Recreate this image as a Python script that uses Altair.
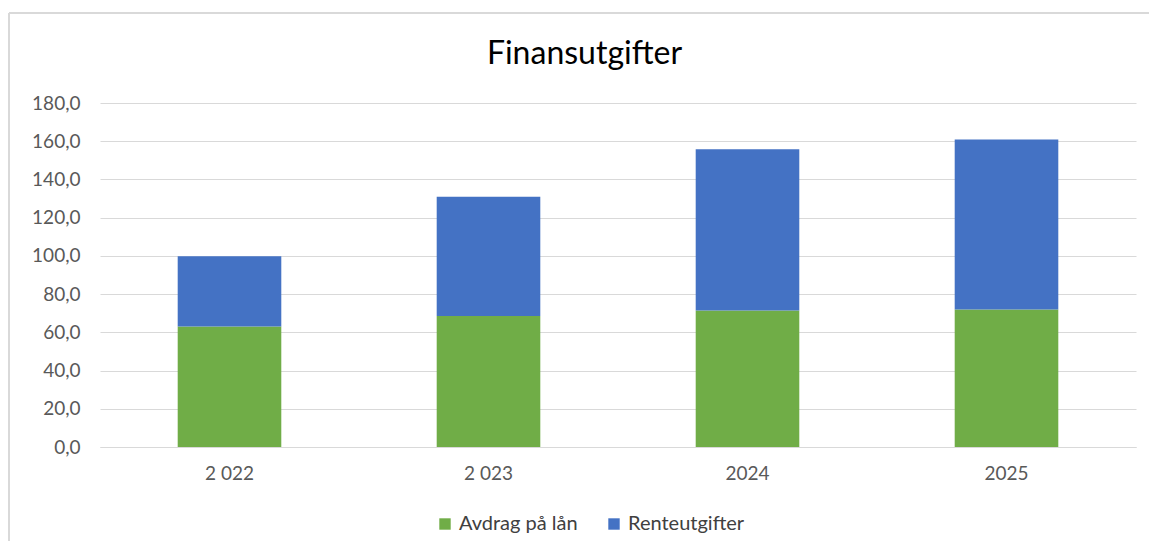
import altair as alt
import pandas as pd

years = ["2 022", "2 023", "2024", "2025"]
avdrag = [63.0, 68.6, 71.4, 71.9]
renteutgifter = [36.8, 62.3, 84.4, 89.0]
series = ["Avdrag på lån", "Renteutgifter"]
colors = ["#70AD47", "#4472C4"]
y_ticks = [0, 20, 40, 60, 80, 100, 120, 140, 160, 180]
title_text = "Finansutgifter"

rows = []
for i, yr in enumerate(years):
    rows.append({"year": yr, "series": series[0], "value": avdrag[i], "ord": 0})
    rows.append({"year": yr, "series": series[1], "value": renteutgifter[i], "ord": 1})
df = pd.DataFrame(rows)

FONT = "Lato"
W, H = 1036, 344

bars = alt.Chart(df).mark_bar(strokeWidth=0).encode(
    x=alt.X("year:N", sort=years,
            scale=alt.Scale(paddingInner=0.6, paddingOuter=0.3),
            axis=alt.Axis(title=None, labelAngle=0, ticks=False, domain=True,
                          domainColor="#d9d9d9", labelPadding=17, grid=False,
                          labelFont=FONT, labelFontSize=19, labelColor="#595959")),
    y=alt.Y("value:Q", stack="zero",
            scale=alt.Scale(domain=[0, 180], nice=False),
            axis=alt.Axis(title=None, values=y_ticks, ticks=False, domain=False,
                          gridColor="#d9d9d9", gridWidth=1, labelPadding=20,
                          labelExpr="replace(format(datum.value, '.1f'), '.', ',')",
                          labelFont=FONT, labelFontSize=19, labelColor="#595959")),
    color=alt.Color("series:N", sort=series,
                    scale=alt.Scale(domain=series, range=colors),
                    legend=alt.Legend(title=None, orient="none", direction="horizontal",
                                      legendX=335, legendY=411, symbolType="square",
                                      symbolSize=130, symbolStrokeWidth=0,
                                      labelFont=FONT, labelFontSize=20,
                                      labelColor="#404040", columnPadding=26,
                                      labelOffset=4, padding=0)),
    order=alt.Order("ord:Q"),
)

title_df = pd.DataFrame({"t": [title_text]})
title = alt.Chart(title_df).mark_text(
    font=FONT, fontSize=32, color="#000000", align="center", baseline="alphabetic"
).encode(text="t:N", x=alt.value(484.5), y=alt.value(-39))

border_top = alt.Chart(title_df).mark_rule(color="#d9d9d9", strokeWidth=2).encode(
    x=alt.value(-91), x2=alt.value(1049), y=alt.value(-90))
border_left = alt.Chart(title_df).mark_rule(color="#d9d9d9", strokeWidth=2).encode(
    x=alt.value(-91), y=alt.value(-90), y2=alt.value(438))

chart = alt.layer(border_top, border_left, bars, title).properties(
    width=W, height=H,
    background="white",
    autosize=alt.AutoSizeParams(type="none"),
    padding={"left": 92, "top": 95, "right": 13, "bottom": 94},
).configure_view(strokeWidth=0, stroke=None)

chart.save("out.html", embed_options={"renderer": "svg", "actions": False})
